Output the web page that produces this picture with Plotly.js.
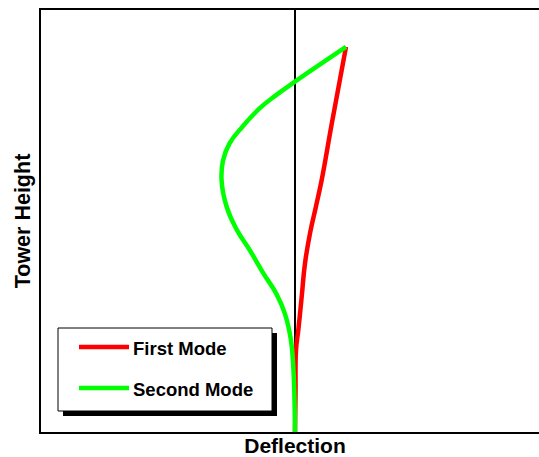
<!DOCTYPE html>
<html>
<head>
<meta charset="utf-8">
<script src="https://cdn.plot.ly/plotly-3.0.1.min.js"></script>
<style>
html, body { margin: 0; padding: 0; overflow: hidden; background: #fff; }
#chart { width: 560px; height: 457px; }
</style>
</head>
<body>
<div id="chart"></div>
<script>
// Data (deflection normalised to top deflection = 1, height normalised to tower height = 1)
var firstModeHeight = [0, 0.1, 0.213, 0.265, 0.351, 0.438, 0.516, 0.585, 0.655, 0.8, 1];
var firstModeDeflection = [0, 0.01, 0.02, 0.065, 0.131, 0.196, 0.294, 0.41, 0.524, 0.72, 1];

var secondModeHeight = [0, 0.083, 0.161, 0.239, 0.308, 0.36, 0.412, 0.473, 0.525, 0.585, 0.655, 0.706, 0.75, 0.793, 0.841, 0.875, 0.91, 1];
var secondModeDeflection = [0, -0.01, -0.03, -0.08, -0.2, -0.37, -0.62, -0.89, -1.14, -1.34, -1.44, -1.41, -1.28, -1.03, -0.69, -0.37, 0, 1];

var seriesNames = ["First Mode", "Second Mode"];
var seriesColors = ["#ff0000", "#00ff00"];

var FONT = "Liberation Sans, Arial, Helvetica, sans-serif";

// layout geometry (pixels)
var W = 560, H = 457, ML = 41, MR = 11, MT = 10, MB = 25;
var PW = W - ML - MR, PH = H - MT - MB;
function px(x) { return (x - ML) / PW; }
function py(y) { return (H - MB - y) / PH; }

var traces = [
  {x: firstModeDeflection, y: firstModeHeight, name: seriesNames[0], type: "scatter", mode: "lines",
   line: {color: seriesColors[0], width: 4.5, shape: "spline", smoothing: 1.3}},
  {x: secondModeDeflection, y: secondModeHeight, name: seriesNames[1], type: "scatter", mode: "lines",
   line: {color: seriesColors[1], width: 4.5, shape: "spline", smoothing: 1.3}}
];

// custom legend (box, shadow, sample lines)
var LB = {x0: 58, y0: 328, x1: 272, y1: 411};
var rowY = [347, 388];
var shapes = [
  {type: "rect", xref: "paper", yref: "paper", x0: px(LB.x0 + 5), x1: px(LB.x1 + 5), y0: py(LB.y0 + 5), y1: py(LB.y1 + 5),
   fillcolor: "#000", line: {width: 0}},
  {type: "rect", xref: "paper", yref: "paper", x0: px(LB.x0), x1: px(LB.x1), y0: py(LB.y0), y1: py(LB.y1),
   fillcolor: "#fff", line: {color: "#000", width: 1}}
];
var annotations = [];
for (var i = 0; i < seriesNames.length; i++) {
  shapes.push({type: "line", xref: "paper", yref: "paper", x0: px(79), x1: px(129), y0: py(rowY[i]), y1: py(rowY[i]),
    line: {color: seriesColors[i], width: 4.5}});
  annotations.push({xref: "paper", yref: "paper", x: px(131), y: py(rowY[i] + 1), xanchor: "left", yanchor: "middle",
    text: "<b>" + seriesNames[i] + "</b>", showarrow: false, font: {family: FONT, size: 18.5, color: "#000"}});
}

var layout = {
  width: W, height: H,
  margin: {l: ML, r: MR, t: MT, b: MB, pad: 0},
  paper_bgcolor: "#fff", plot_bgcolor: "#fff",
  showlegend: false,
  xaxis: {
    range: [-4.98, 4.98], showgrid: false, showticklabels: false, ticks: "",
    showline: true, mirror: true, linecolor: "#000", linewidth: 2,
    zeroline: true, zerolinecolor: "#000", zerolinewidth: 2,
    title: {text: "<b>Deflection</b>", font: {family: FONT, size: 21, color: "#000"}, standoff: 6}
  },
  yaxis: {
    range: [0, 1.096], showgrid: false, showticklabels: false, ticks: "",
    showline: true, mirror: true, linecolor: "#000", linewidth: 2,
    zeroline: false,
    title: {text: "<b>Tower Height</b>", font: {family: FONT, size: 21.5, color: "#000"}, standoff: 2}
  },
  shapes: shapes,
  annotations: annotations
};

Plotly.newPlot("chart", traces, layout, {staticPlot: true, displayModeBar: false});
</script>
</body>
</html>
